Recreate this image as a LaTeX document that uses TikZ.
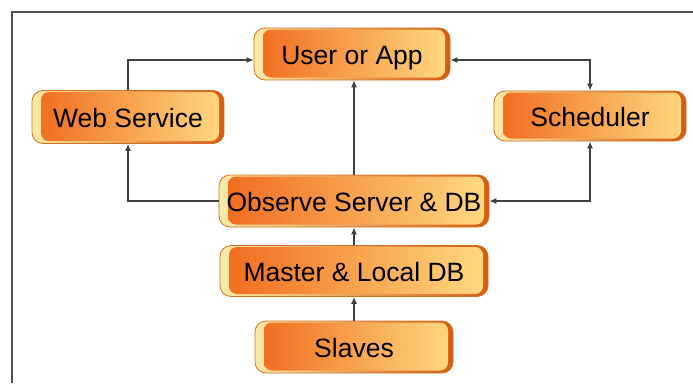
\documentclass[tikz,border=0pt]{standalone}
\usepackage{fontspec}
\setmainfont{Liberation Sans}
\usetikzlibrary{arrows.meta}
\definecolor{faceA}{HTML}{F06A1C}
\definecolor{faceM}{HTML}{F8A050}
\definecolor{faceB}{HTML}{FFDA80}
\definecolor{bevA}{HTML}{F8EBA8}
\definecolor{bevB}{HTML}{D85A10}
\definecolor{edgec}{HTML}{D07020}
\definecolor{connc}{HTML}{404040}
\definecolor{framec}{HTML}{505050}
\begin{document}
\begin{tikzpicture}[x=1pt,y=-1pt,
  >={Latex[length=7pt,width=6pt]},
  box/.style={rounded corners=11pt, inner sep=0pt, left color=bevA, right color=bevB,
    draw=edgec, line width=0.8pt, font=\fontsize{26.5}{30}\selectfont, text=black,
    text height=24pt, text depth=3pt,
    path picture={\shade[rounded corners=8pt, left color=faceA, middle color=faceM, right color=faceB]
      ([xshift=9pt,yshift=2.5pt]path picture bounding box.south west) rectangle
      ([xshift=-5pt,yshift=-1.5pt]path picture bounding box.north east);}},
  conn/.style={draw=connc, line width=1.3pt, ->},
  conn2/.style={draw=connc, line width=1.3pt, <->}]
\useasboundingbox (0,0) rectangle (693,383);
\draw[framec, line width=1.2pt] (12,383) -- (12,12) -- (693,12);
\node[box, minimum width=196pt, minimum height=52pt] (user) at (352,54) {User or App};
\node[box, minimum width=192pt, minimum height=53pt] (web) at (128,117) {Web Service};
\node[box, minimum width=192pt, minimum height=50pt] (sched) at (590,116) {Scheduler};
\node[box, minimum width=270pt, minimum height=52pt] (obs) at (354,201) {Observe Server \& DB};
\node[box, minimum width=268pt, minimum height=51pt] (master) at (354,271) {Master \& Local DB};
\node[box, minimum width=198pt, minimum height=52pt] (slaves) at (354,347) {Slaves};
\draw[conn] (web.north) |- ([yshift=-6pt]user.west);
\draw[conn2] ([yshift=-6pt]user.east) -| (sched.north);
\draw[conn] (obs.north) -- (obs.north |- user.south);
\draw[conn] (obs.west) -| (web.south);
\draw[conn2] (sched.south) |- (obs.east);
\draw[conn] (master.north) -- (obs.south);
\draw[conn] (slaves.north -| master.north) -- (master.south);
\end{tikzpicture}
\end{document}
